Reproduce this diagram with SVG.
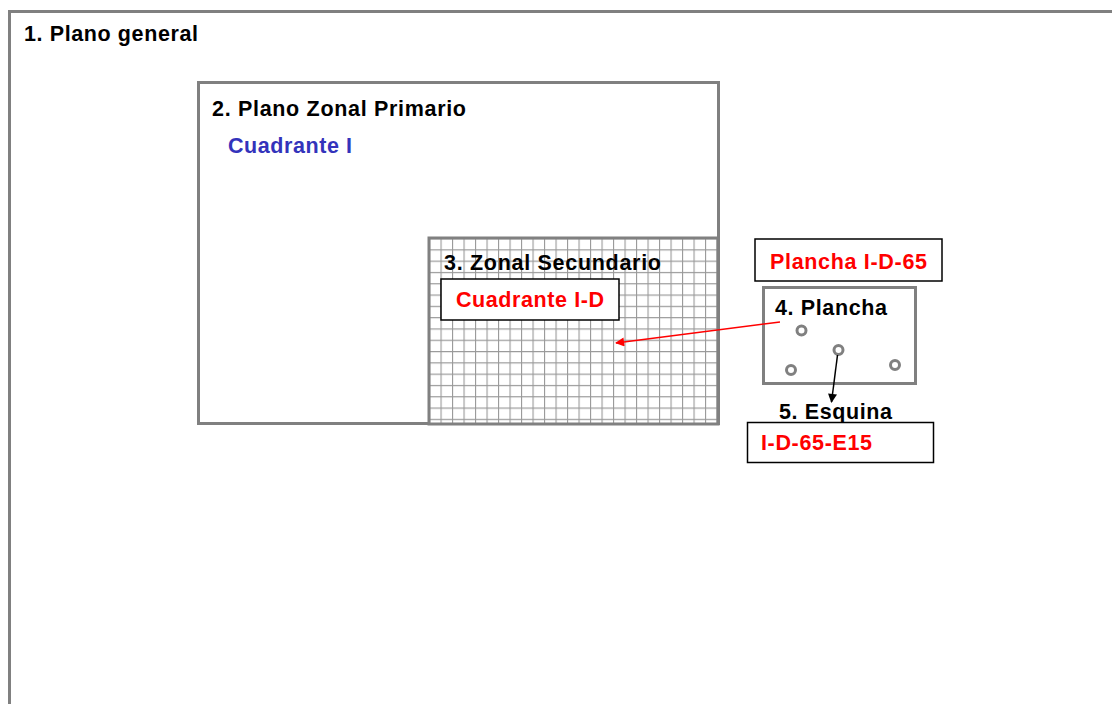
<svg xmlns="http://www.w3.org/2000/svg" width="1112" height="704" viewBox="0 0 1112 704">
<style>
.frame{fill:#fff;stroke:#808080;stroke-width:3}
.box{fill:#fff;stroke:#000;stroke-width:1.5}
.t{font-family:"Liberation Sans",Arial,sans-serif;font-weight:bold;font-size:21.5px}
.k{fill:#000}.r{fill:#ff0000}.b{fill:#3333bb}
.hole{fill:none;stroke:#808080;stroke-width:3}
</style>
<defs>
<pattern id="grid" x="429" y="238" width="11.5" height="11.3" patternUnits="userSpaceOnUse">
<rect width="11.5" height="11.3" fill="#fff"/>
<path d="M0 0H11.5M0 0V11.3" stroke="#999" stroke-width="2.2" fill="none"/>
</pattern>
<marker id="ar" viewBox="0 0 10 10" refX="9" refY="5" markerWidth="10" markerHeight="9" orient="auto" markerUnits="userSpaceOnUse">
<path d="M0 0L10 5L0 10z" fill="#ff0000"/>
</marker>
<marker id="ak" viewBox="0 0 10 10" refX="9" refY="5" markerWidth="10" markerHeight="9" orient="auto" markerUnits="userSpaceOnUse">
<path d="M0 0L10 5L0 10z" fill="#000"/>
</marker>
</defs>
<rect width="1112" height="704" fill="#fff"/>
<g id="plano-general">
<rect class="frame" x="9.5" y="11.5" width="1120" height="720"/>
<text class="t k" x="24" y="41" textLength="174">1. Plano general</text>
</g>
<g id="plano-zonal-primario">
<rect class="frame" x="198.5" y="82.5" width="520" height="341"/>
<text class="t k" x="212" y="116" textLength="254">2. Plano Zonal Primario</text>
<text class="t b" x="228" y="153" textLength="124">Cuadrante I</text>
</g>
<g id="zonal-secundario">
<rect x="429" y="238" width="289" height="186" fill="url(#grid)" stroke="#808080" stroke-width="3"/>
<text class="t k" x="444" y="270" textLength="217">3. Zonal Secundario</text>
<rect class="box" x="441" y="279" width="178" height="41"/>
<text class="t r" x="456" y="307" textLength="148">Cuadrante I-D</text>
</g>
<g id="plancha-label">
<rect class="box" x="755" y="239" width="187" height="42"/>
<text class="t r" x="770" y="269" textLength="157">Plancha I-D-65</text>
</g>
<g id="plancha">
<rect class="frame" x="763.5" y="287.5" width="152" height="96"/>
<text class="t k" x="775" y="315" textLength="112">4. Plancha</text>
<circle class="hole" cx="801.5" cy="330.5" r="4.5"/>
<circle class="hole" cx="838.5" cy="350" r="4.5"/>
<circle class="hole" cx="791" cy="370" r="4.5"/>
<circle class="hole" cx="895" cy="365" r="4.5"/>
</g>
<g id="esquina">
<text class="t k" x="779" y="419" textLength="113">5. Esquina</text>
<rect class="box" x="747.5" y="422.5" width="186" height="40"/>
<text class="t r" x="761" y="450" textLength="111">I-D-65-E15</text>
</g>
<g id="connectors">
<line x1="780" y1="322" x2="616" y2="343" stroke="#ff0000" stroke-width="1.5" marker-end="url(#ar)"/>
<line x1="837.5" y1="355" x2="831.5" y2="402" stroke="#000" stroke-width="1.5" marker-end="url(#ak)"/>
</g>
</svg>
